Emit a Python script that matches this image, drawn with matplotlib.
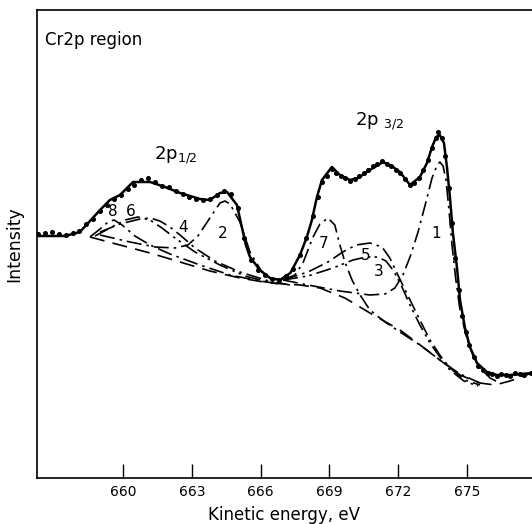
import matplotlib
matplotlib.use("Agg")
import matplotlib.pyplot as plt

# ---- data (kinetic energy eV, intensity arb. units) ----
env_x = [656.25, 657.47, 658.12, 659.0, 659.43, 659.87, 660.44, 661.18, 661.83, 662.49,
         663.36, 663.79, 664.23, 664.54, 664.97, 665.36, 665.54, 665.97, 666.41, 666.85,
         667.30, 667.72, 668.02, 668.24, 668.46, 668.68, 669.11, 669.46, 669.90, 670.25,
         670.77, 671.34, 671.78, 672.08, 672.52, 672.95, 673.26, 673.48, 673.66, 673.82,
         674.00, 674.13, 674.26, 674.39, 674.57, 674.70, 674.91, 675.13, 675.44, 675.87,
         676.31, 676.88, 677.84]
env_y = [242, 242, 246, 268, 278, 283, 296, 296, 291, 285,
         279, 278, 285, 286, 273, 233, 221, 208, 200, 198,
         205, 223, 241, 258, 281, 298, 311, 303, 298, 300,
         308, 316, 311, 306, 293, 301, 315, 331, 341, 343,
         335, 311, 281, 245, 210, 178, 151, 131, 115, 106,
         103, 103, 105]

pts_x = [656.3, 656.6, 656.9, 657.2, 657.5, 657.8, 658.1, 658.4, 658.7, 659.0, 659.3, 659.6,
         659.9, 660.2, 660.5, 660.8, 661.1, 661.4, 661.7, 662.0, 662.3, 662.6, 662.9, 663.2,
         663.5, 663.8, 664.1, 664.4, 664.7, 665.0, 665.3, 665.6, 665.9, 666.2, 666.5, 666.8,
         667.1, 667.4, 667.7, 668.0, 668.3, 668.5, 668.7, 668.9, 669.1, 669.3, 669.5, 669.7,
         669.9, 670.1, 670.3, 670.5, 670.7, 670.9, 671.1, 671.3, 671.5, 671.7, 671.9, 672.1,
         672.3, 672.5, 672.7, 672.9, 673.1, 673.3, 673.5, 673.65, 673.75, 673.9, 674.05, 674.2,
         674.35, 674.5, 674.65, 674.8, 674.95, 675.1, 675.3, 675.5, 675.7, 675.9, 676.1, 676.3,
         676.5, 676.7, 676.9, 677.1, 677.3, 677.5, 677.8]
pts_y = [244, 245, 246, 244, 243, 245, 247, 254, 259, 267, 273, 279,
         283, 289, 293, 298, 300, 296, 292, 291, 287, 284, 281, 279,
         278, 279, 283, 287, 284, 270, 240, 218, 208, 203, 199, 198,
         202, 209, 223, 240, 262, 281, 296, 302, 309, 305, 302, 300,
         297, 299, 302, 305, 308, 312, 314, 317, 314, 312, 308, 305,
         299, 293, 295, 300, 308, 318, 330, 340, 346, 340, 322, 290,
         255, 220, 188, 162, 146, 133, 121, 112, 108, 105, 104, 102,
         104, 103, 102, 105, 104, 103, 105]

bg_x = [658.56, 659.87, 661.18, 662.49, 663.79, 665.10, 666.41, 667.72, 668.59, 669.68,
        670.77, 672.08, 673.08, 673.82, 674.70, 675.57, 676.22, 676.88, 677.84]
bg_y = [241, 233, 225, 216, 207, 200, 195, 193, 190, 180,
        165, 148, 131, 118, 103, 95, 93, 97, 105]

c1_x = [666.98, 668.07, 669.46, 670.77, 671.43, 671.86, 672.21, 672.52, 672.87, 673.18,
        673.48, 673.70, 673.82, 673.96, 674.09, 674.22, 674.35, 674.52, 674.70, 674.96,
        675.26, 675.57, 676.01, 676.44]
c1_y = [198, 193, 187, 183, 184, 190, 203, 221, 246, 273,
        300, 313, 316, 312, 298, 268, 233, 198, 168, 143,
        123, 110, 100, 95]

c2_x = [659.0, 660.31, 661.40, 662.27, 662.83, 663.27, 663.79, 664.23, 664.45, 664.67,
        665.10, 665.54, 666.06, 666.63, 667.28]
c2_y = [243, 236, 231, 230, 233, 242, 260, 275, 277, 274,
        256, 226, 206, 196, 193]

c3_x = [666.98, 668.07, 669.16, 670.03, 670.60, 671.12, 671.47, 671.78, 672.13, 672.52,
        672.95, 673.39, 673.82, 674.26, 674.87, 675.48]
c3_y = [198, 202, 210, 218, 221, 221, 217, 208, 193, 173,
        153, 135, 121, 108, 97, 92]

c4_x = [659.0, 659.87, 660.74, 661.18, 661.61, 662.05, 662.49, 663.14, 664.01, 665.10, 666.50]
c4_y = [246, 254, 259, 260, 257, 251, 243, 230, 217, 206, 196]

c5_x = [666.98, 668.07, 668.94, 669.59, 670.16, 670.77, 671.30, 671.64, 671.99, 672.52,
        672.95, 673.39, 673.82, 674.26, 674.91, 675.57]
c5_y = [198, 206, 216, 226, 233, 235, 231, 220, 203, 178,
        158, 138, 123, 110, 98, 93]

c6_x = [658.78, 659.43, 660.09, 660.65, 661.18, 661.70, 662.27, 663.14, 664.23, 665.32, 666.50]
c6_y = [242, 250, 258, 261, 258, 250, 240, 226, 213, 202, 195]

c7_x = [666.98, 667.50, 667.85, 668.29, 668.59, 668.94, 669.24, 669.46, 669.68, 669.99,
        670.34, 670.77, 671.43, 672.08, 672.95, 673.82, 674.70, 675.57]
c7_y = [198, 203, 215, 241, 254, 260, 253, 233, 216, 198,
        183, 168, 156, 146, 133, 118, 104, 95]

c8_x = [658.56, 659.0, 659.35, 659.61, 659.96, 660.52, 661.18, 662.05, 663.36, 664.67,
        665.97, 666.85]
c8_y = [241, 249, 256, 258, 253, 242, 233, 224, 213, 203, 197, 194]

xticks = [660, 663, 666, 669, 672, 675]
comp_labels = ["1", "2", "3", "4", "5", "6", "7", "8"]
comp_label_x = [673.65, 664.35, 671.15, 662.6, 670.6, 660.32, 668.75, 659.55]
comp_label_y = [245, 245, 206, 251, 223, 266, 235, 266]

# ---- figure ----
plt.rcParams['font.family'] = ['DejaVu Sans']
fig = plt.figure(figsize=(5.32, 5.24), dpi=100)
ax = fig.add_axes([37/532, 46/524, 1 - 37/532, 468/524])

dd = (0, (9, 3, 1.5, 3))          # dash-dot
ddd = (0, (9, 3, 1.5, 2.5, 1.5, 3))  # dash-dot-dot
lw = 1.2
ax.plot(bg_x, bg_y, color='black', lw=lw, linestyle=(0, (9, 5)))
ax.plot(c1_x, c1_y, color='black', lw=lw, linestyle=dd)
ax.plot(c2_x, c2_y, color='black', lw=lw, linestyle=dd)
ax.plot(c3_x, c3_y, color='black', lw=lw, linestyle=ddd)
ax.plot(c4_x, c4_y, color='black', lw=lw, linestyle=dd)
ax.plot(c5_x, c5_y, color='black', lw=lw, linestyle=dd)
ax.plot(c6_x, c6_y, color='black', lw=lw, linestyle=ddd)
ax.plot(c7_x, c7_y, color='black', lw=lw, linestyle=dd)
ax.plot(c8_x, c8_y, color='black', lw=lw, linestyle=dd)
ax.plot(env_x, env_y, color='black', lw=1.8)
ax.plot(pts_x, pts_y, 'o', color='black', ms=2.6)

for t, x, y in zip(comp_labels, comp_label_x, comp_label_y):
    ax.text(x, y, t, fontsize=11, ha='center', va='center')

ax.text(0.017, 0.936, "Cr2p region", transform=ax.transAxes, fontsize=12,
        ha='left', va='center')
ax.text(662.3, 323, r"$\mathregular{2p_{1/2}}$", fontsize=13, ha='center', va='center')
ax.text(671.2, 357, r"$\mathregular{2p\ _{3/2}}$", fontsize=13, ha='center', va='center')

ax.set_xlim(656.25, 677.84)
ax.set_ylim(0, 468)
ax.set_xticks(xticks)
ax.set_xticklabels([str(t) for t in xticks], fontsize=10)
ax.set_yticks([])
ax.tick_params(axis='x', direction='in', length=10, width=1, pad=5)
ax.spines['right'].set_visible(False)
for s in ['left', 'bottom', 'top']:
    ax.spines[s].set_linewidth(1.2)
ax.set_xlabel("Kinetic energy, eV", fontsize=12, labelpad=5)
ax.set_ylabel("Intensity", fontsize=12.5, labelpad=10)

fig.savefig("out.png", dpi=100)
